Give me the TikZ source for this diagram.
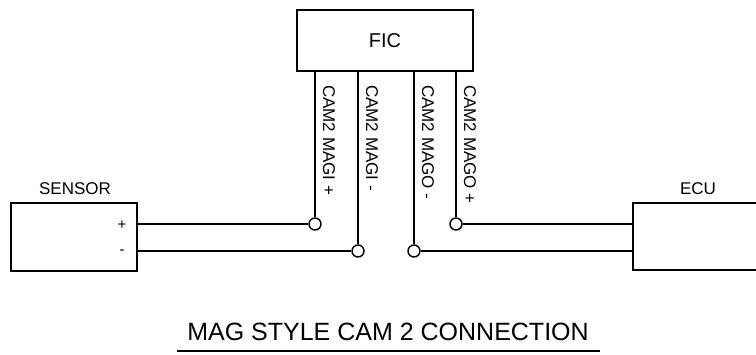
\documentclass[tikz,border=0pt]{standalone}
\usepackage{fontspec}
\setmainfont{Liberation Sans}
\begin{document}
\begin{tikzpicture}[x=1pt,y=-1pt,
  box/.style={draw=black,line width=1.8pt,inner sep=0pt},
  wire/.style={draw=black,line width=1.4pt},
  term/.style={circle,draw=black,fill=white,line width=1.4pt,minimum size=12pt,inner sep=0pt},
  lbl/.style={font=\fontsize{17}{20}\selectfont,inner sep=0pt},
  vlbl/.style={font=\fontsize{17}{20}\selectfont,rotate=-90,anchor=west,inner sep=0pt},
  pin/.style={font=\fontsize{15}{17}\selectfont,inner sep=0pt}]
\useasboundingbox (0,0) rectangle (756,354);
% boxes
\node[box,minimum width=126pt,minimum height=68pt] (sensor) at (74,237) {};
\node[box,minimum width=176pt,minimum height=61pt,font=\fontsize{20}{23}\selectfont] (fic) at (385,40.5) {FIC};
\node[inner sep=0pt,minimum width=130pt,minimum height=67pt] (ecu) at (698,236.5) {};
\draw[box] ([xshift=10pt]ecu.north east) -- (ecu.north west) -- (ecu.south west) -- ([xshift=10pt]ecu.south east);
% labels
\node[lbl] (sensorlbl) at (75,189) {SENSOR};
\node[lbl] (eculbl) at (698,189) {ECU};
\node[pin] (pplus) at (122,225) {+};
\node[pin] (pminus) at (122,252) {-};
% terminals
\node[term] (t1) at (315,224) {};
\node[term] (t2) at (358,251) {};
\node[term] (t3) at (414,251) {};
\node[term] (t4) at (456,224) {};
% wires
\coordinate (s1) at (sensor.east |- t1);
\coordinate (s2) at (sensor.east |- t2);
\coordinate (e1) at (ecu.west |- t4);
\coordinate (e2) at (ecu.west |- t3);
\draw[wire] (s1) -- (t1.west);
\draw[wire] (s2) -- (t2.west);
\draw[wire] (t3.east) -- (e2);
\draw[wire] (t4.east) -- (e1);
\draw[wire] (fic.south -| t1) -- (t1.north);
\draw[wire] (fic.south -| t2) -- (t2.north);
\draw[wire] (fic.south -| t3) -- (t3.north);
\draw[wire] (fic.south -| t4) -- (t4.north);
% vertical labels
\node[vlbl] (v1) at (329,85) {CAM2 MAGI +};
\node[vlbl] (v2) at (372,85) {CAM2 MAGI -};
\node[vlbl] (v3) at (428,85) {CAM2 MAGO -};
\node[vlbl] (v4) at (470,85) {CAM2 MAGO +};
% title
\node[font=\fontsize{25}{28}\selectfont,anchor=base,inner sep=0pt] (title) at (388,340) {MAG STYLE CAM 2 CONNECTION};
\coordinate (ul1) at (177,351);
\coordinate (ul2) at (600,351);
\draw[line width=2pt] (ul1) -- (ul2);
\end{tikzpicture}
\end{document}
